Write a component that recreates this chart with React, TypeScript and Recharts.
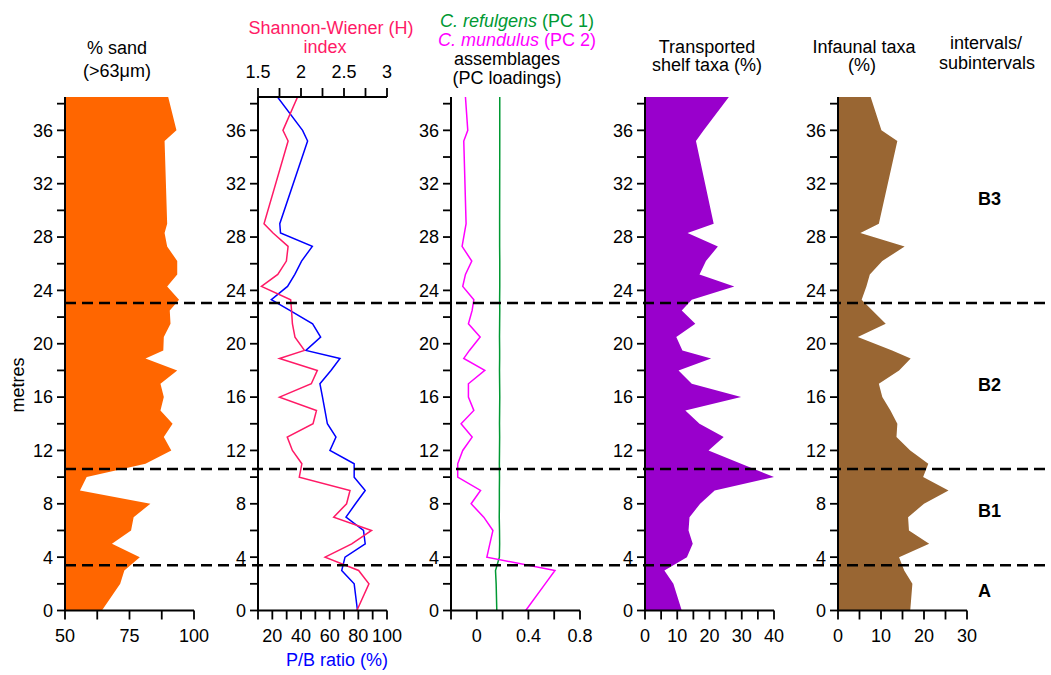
import React from 'react';
import { ComposedChart, Area, Line, XAxis, YAxis, ReferenceLine, ReferenceDot } from 'recharts';

const FONT = '"Liberation Sans", Arial, Helvetica, sans-serif';
const ORANGE = '#ff6600';
const PURPLE = '#9900cc';
const BROWN = '#996633';
const PINK = '#ff1a66';
const BLUE = '#0000ff';
const GREEN = '#009933';
const MAGENTA = '#ff00ff';

// sample depths (m), top of core first
const depths = [38.5, 36, 35.2, 29, 28.3, 27.3, 26.2, 25.2, 24.3, 23.3, 22.5, 21.5, 20.5, 19.5, 18.9, 18, 17, 16, 15, 14, 13, 12, 11, 10, 9, 8, 7, 6, 5, 4, 3, 2, 0];

// values read at each depth
const sand = [90.0, 93.2, 88.6, 89.6, 88.6, 89.6, 93.5, 93.5, 89.6, 94.2, 90.6, 90.9, 88.3, 88.1, 81.2, 93.5, 87.0, 88.3, 87.0, 91.7, 88.3, 91.2, 81.2, 58.4, 55.8, 83.1, 76.6, 75.6, 68.2, 79.0, 73.0, 71.4, 64.3];
const shannon = [1.96, 1.79, 1.85, 1.57, 1.675, 1.85, 1.83, 1.73, 1.54, 1.88, 1.89, 1.9, 1.93, 2.04, 1.75, 2.19, 2.12, 1.75, 2.18, 2.14, 1.84, 1.9, 2.01, 1.98, 2.57, 2.53, 2.38, 2.82, 2.59, 2.28, 2.67, 2.79, 2.65];
const pbRatio = [23.6, 41.1, 44.6, 25.2, 25.7, 47.9, 40.4, 35.7, 30.6, 19.3, 32.2, 48.1, 53.7, 43.4, 67.2, 60.9, 53.2, 55.0, 56.7, 58.4, 64.4, 60.2, 77.1, 77.1, 84.8, 78.0, 71.4, 83.6, 84.8, 70.7, 68.4, 77.1, 79.4];
const refulgens = [0.178, 0.178, 0.178, 0.177, 0.177, 0.177, 0.178, 0.178, 0.178, 0.177, 0.178, 0.177, 0.176, 0.177, 0.177, 0.176, 0.177, 0.178, 0.177, 0.176, 0.177, 0.176, 0.175, 0.176, 0.175, 0.175, 0.174, 0.176, 0.177, 0.175, 0.145, 0.15, 0.155];
const mundulus = [-0.088, -0.07, -0.101, -0.083, -0.096, -0.114, -0.039, -0.088, -0.109, -0.023, -0.036, -0.065, 0.026, -0.057, -0.101, 0.062, -0.065, -0.065, -0.023, -0.122, -0.036, -0.109, -0.148, -0.148, 0.029, -0.044, 0.054, 0.125, 0.101, 0.078, 0.606, 0.53, 0.379];
const transported = [26.0, 18.2, 15.8, 21.3, 13.2, 22.6, 18.9, 16.9, 27.7, 14.5, 11.4, 15.6, 9.7, 11.6, 20.5, 10.4, 14.5, 29.8, 12.5, 16.9, 24.4, 19.7, 29.8, 40.0, 21.6, 17.1, 13.8, 13.5, 14.8, 13.0, 6.0, 8.8, 11.4];
const infaunal = [7.6, 10.1, 13.8, 9.5, 5.2, 15.5, 10.3, 7.4, 6.6, 5.5, 8.0, 11.1, 4.6, 12.6, 16.9, 14.2, 9.5, 10.3, 12.2, 13.8, 13.6, 16.8, 21.0, 19.8, 25.7, 20.0, 16.3, 16.5, 21.2, 14.2, 15.4, 17.3, 16.8];

// intervals
const boundaries = [3.4, 10.6, 23.05];
const intervalNames = ['A', 'B1', 'B2', 'B3'];
const intervalLabelDepths = [1.5, 7.5, 16.9, 30.9];

// ticks and tick labels
const TOP_DEPTH = 38.5;
const depthTicks = [0, 2, 4, 6, 8, 10, 12, 14, 16, 18, 20, 22, 24, 26, 28, 30, 32, 34, 36, 38];
const depthLabels = [0, 4, 8, 12, 16, 20, 24, 28, 32, 36];
const sandTicks = [50, 62.5, 75, 87.5, 100];
const sandLabels = [50, 75, 100];
const pbTicks = [10, 20, 30, 40, 50, 60, 70, 80, 90, 100];
const pbLabels = [20, 40, 60, 80, 100];
const shannonTicks = [1.5, 1.75, 2, 2.25, 2.5, 2.75, 3];
const shannonLabels = [1.5, 2, 2.5, 3];
const pcTicks = [-0.2, 0, 0.2, 0.4, 0.6, 0.8];
const pcLabels = [0, 0.4, 0.8];
const shelfTicks = [0, 5, 10, 15, 20, 25, 30, 35, 40];
const shelfLabels = [0, 10, 20, 30, 40];
const infaunalTicks = [0, 5, 10, 15, 20, 25, 30];
const infaunalLabels = [0, 10, 20, 30];

const rows = depths.map((depth, i) => ({
  depth,
  sand: sand[i],
  shannon: shannon[i],
  pb: pbRatio[i],
  pc1: refulgens[i],
  pc2: mundulus[i],
  shelf: transported[i],
  infaunal: infaunal[i],
}));

// layout
const W = 1051;
const H = 675;
const PLOT_TOP = 97;
const PLOT_BOTTOM = 610.5;
const PANEL_W = 129;
const AXIS_W = 55;
const GAP = 5;
const RIGHT = 24;
const CHART_W = GAP + AXIS_W + PANEL_W + RIGHT;
const X_AXIS_H = 30;
const panelLefts = [65, 258, 451, 645, 838];
const LABEL_X = 92.6; // interval label column, in overlay x units (0-100)

const axisLine = { stroke: '#000', strokeWidth: 2 };
const tickLine = { stroke: '#000', strokeWidth: 1.8 };
const tickText = { fill: '#000', fontSize: 18 };

const fmt = (labels: number[]) => (v: number) => (labels.includes(v) ? String(v) : '');

const depthAxis = () => (
  <YAxis
    type="number"
    dataKey="depth"
    domain={[0, TOP_DEPTH]}
    reversed
    allowDataOverflow
    ticks={depthTicks}
    tickFormatter={fmt(depthLabels)}
    interval={0}
    width={AXIS_W}
    tickSize={8}
    tickMargin={4}
    axisLine={axisLine}
    tickLine={tickLine}
    tick={tickText}
  />
);

const valueAxis = (id: string | number, domain: number[], ticks: number[], labels: number[], orientation: 'top' | 'bottom' = 'bottom') => (
  <XAxis
    xAxisId={id}
    type="number"
    orientation={orientation}
    domain={domain}
    allowDataOverflow
    ticks={ticks}
    tickFormatter={fmt(labels)}
    interval={0}
    height={X_AXIS_H}
    tickSize={9}
    tickMargin={10}
    axisLine={axisLine}
    tickLine={tickLine}
    tick={tickText}
  />
);

const panelBox = (i: number): React.CSSProperties => ({ position: 'absolute', left: panelLefts[i] - AXIS_W - GAP, top: 0 });
const panelMargin = (topAxis: boolean) => ({
  top: topAxis ? PLOT_TOP - X_AXIS_H : PLOT_TOP,
  right: RIGHT,
  bottom: H - PLOT_BOTTOM - X_AXIS_H,
  left: GAP,
});

function Txt({ x, y, color = '#000', children }: { x: number; y: number; color?: string; children: React.ReactNode }) {
  return (
    <div
      style={{
        position: 'absolute',
        left: x - 150,
        top: y - 11,
        width: 300,
        textAlign: 'center',
        fontSize: 18,
        lineHeight: '22px',
        color,
        whiteSpace: 'nowrap',
      }}
    >
      {children}
    </div>
  );
}

export default function App() {
  return (
    <div style={{ position: 'absolute', left: 0, top: 0, width: W, height: H, background: '#fff', fontFamily: FONT, color: '#000', overflow: 'hidden' }}>
      {/* % sand */}
      <div style={panelBox(0)}>
        <ComposedChart layout="vertical" width={CHART_W} height={H} data={rows} margin={panelMargin(false)}>
          {depthAxis()}
          {valueAxis(0, [50, 100], sandTicks, sandLabels)}
          <Area dataKey="sand" type="linear" stroke="none" fill={ORANGE} fillOpacity={1} baseValue="dataMin" isAnimationActive={false} />
        </ComposedChart>
      </div>

      {/* Shannon-Wiener and P/B ratio */}
      <div style={panelBox(1)}>
        <ComposedChart layout="vertical" width={CHART_W} height={H} data={rows} margin={panelMargin(true)}>
          {depthAxis()}
          {valueAxis('pb', [10, 100], pbTicks, pbLabels)}
          {valueAxis('h', [1.5, 3], shannonTicks, shannonLabels, 'top')}
          <Line xAxisId="pb" dataKey="pb" type="linear" stroke={BLUE} strokeWidth={1.5} dot={false} isAnimationActive={false} />
          <Line xAxisId="h" dataKey="shannon" type="linear" stroke={PINK} strokeWidth={1.5} dot={false} isAnimationActive={false} />
        </ComposedChart>
      </div>

      {/* PC loadings */}
      <div style={panelBox(2)}>
        <ComposedChart layout="vertical" width={CHART_W} height={H} data={rows} margin={panelMargin(false)}>
          {depthAxis()}
          {valueAxis(0, [-0.2, 0.8], pcTicks, pcLabels)}
          <Line dataKey="pc1" type="linear" stroke={GREEN} strokeWidth={1.5} dot={false} isAnimationActive={false} />
          <Line dataKey="pc2" type="linear" stroke={MAGENTA} strokeWidth={1.5} dot={false} isAnimationActive={false} />
        </ComposedChart>
      </div>

      {/* transported shelf taxa */}
      <div style={panelBox(3)}>
        <ComposedChart layout="vertical" width={CHART_W} height={H} data={rows} margin={panelMargin(false)}>
          {depthAxis()}
          {valueAxis(0, [0, 40], shelfTicks, shelfLabels)}
          <Area dataKey="shelf" type="linear" stroke="none" fill={PURPLE} fillOpacity={1} baseValue="dataMin" isAnimationActive={false} />
        </ComposedChart>
      </div>

      {/* infaunal taxa */}
      <div style={panelBox(4)}>
        <ComposedChart layout="vertical" width={CHART_W} height={H} data={rows} margin={panelMargin(false)}>
          {depthAxis()}
          {valueAxis(0, [0, 30], infaunalTicks, infaunalLabels)}
          <Area dataKey="infaunal" type="linear" stroke="none" fill={BROWN} fillOpacity={1} baseValue="dataMin" isAnimationActive={false} />
        </ComposedChart>
      </div>

      {/* interval boundaries and names across all panels */}
      <div style={{ position: 'absolute', left: 0, top: 0 }}>
        <ComposedChart
          layout="vertical"
          width={W}
          height={H}
          data={rows}
          margin={{ top: PLOT_TOP, right: 0, bottom: H - PLOT_BOTTOM, left: panelLefts[0] }}
        >
          <XAxis type="number" domain={[0, 100]} allowDataOverflow hide />
          <YAxis type="number" dataKey="depth" domain={[0, TOP_DEPTH]} reversed allowDataOverflow hide />
          {boundaries.map((b) => (
            <ReferenceLine key={b} y={b} stroke="#000" strokeWidth={2.5} strokeDasharray="11 6" />
          ))}
          {intervalNames.map((n, i) => (
            <ReferenceDot
              key={n}
              x={LABEL_X}
              y={intervalLabelDepths[i]}
              r={0}
              fill="none"
              stroke="none"
              label={{ value: n, position: 'right', offset: 0, fill: '#000', fontSize: 18, fontWeight: 700 }}
            />
          ))}
        </ComposedChart>
      </div>

      <Txt x={117} y={48}>% sand</Txt>
      <Txt x={117} y={71}>(&gt;63μm)</Txt>

      <Txt x={331} y={28} color={PINK}>Shannon-Wiener (H)</Txt>
      <Txt x={325} y={46.5} color={PINK}>index</Txt>
      <Txt x={337} y={660} color={BLUE}>P/B ratio (%)</Txt>

      <Txt x={517} y={21} color={GREEN}><i>C. refulgens</i> (PC 1)</Txt>
      <Txt x={517} y={40} color={MAGENTA}><i>C. mundulus</i> (PC 2)</Txt>
      <Txt x={507} y={59}>assemblages</Txt>
      <Txt x={507} y={78}>(PC loadings)</Txt>

      <Txt x={707} y={47}>Transported</Txt>
      <Txt x={707} y={65}>shelf taxa (%)</Txt>

      <Txt x={864} y={47}>Infaunal taxa</Txt>
      <Txt x={862} y={65}>(%)</Txt>

      <Txt x={986} y={43}>intervals/</Txt>
      <Txt x={987} y={63}>subintervals</Txt>

      <div style={{ position: 'absolute', left: 18 - 40, top: 385 - 11, width: 80, textAlign: 'center', fontSize: 18, lineHeight: '22px', transform: 'rotate(-90deg)' }}>
        metres
      </div>
    </div>
  );
}
